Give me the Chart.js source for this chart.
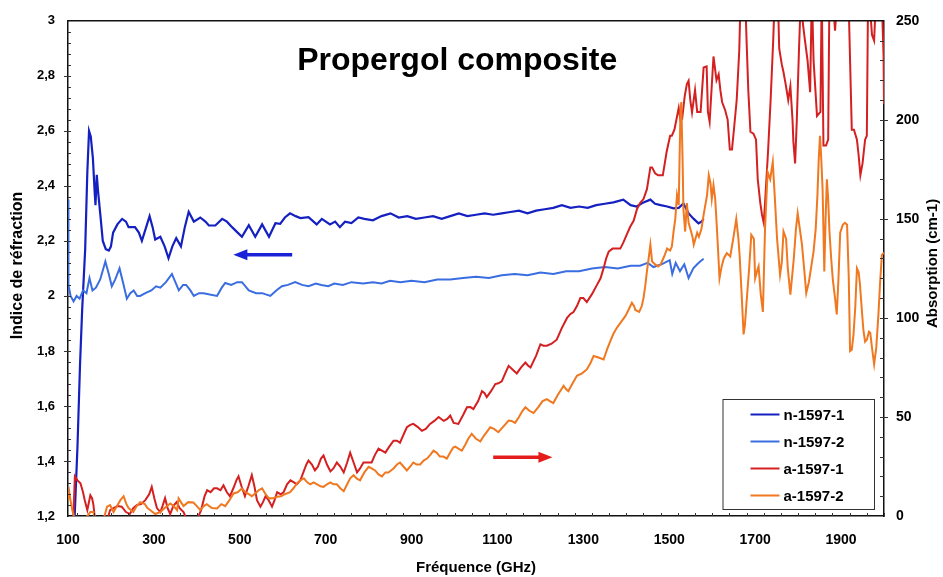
<!DOCTYPE html>
<html>
<head>
<meta charset="utf-8">
<title>Propergol composite</title>
<script src="https://cdn.jsdelivr.net/npm/chart.js@4.4.1/dist/chart.umd.min.js"></script>
<style>
  html, body { margin: 0; padding: 0; background: #fff; }
  #wrap { width: 943px; height: 577px; }
</style>
</head>
<body>
<div id="wrap"><canvas id="chart" width="943" height="577"></canvas></div>
<script>
// Axes (GHz, indice, cm-1)
const xTicks = [100, 300, 500, 700, 900, 1100, 1300, 1500, 1700, 1900];
const leftTicks = [1.2, 1.4, 1.6, 1.8, 2, 2.2, 2.4, 2.6, 2.8, 3];
const rightTicks = [0, 50, 100, 150, 200, 250];

// n-1597-1 : indice de réfraction, échantillon 1
const n1Freq = [115, 122, 128, 133, 140, 145, 149, 153, 158, 162, 164, 167, 170, 175, 181, 188, 195, 200, 205, 215,
  226, 235, 241, 256, 265, 272, 282, 290, 297, 303, 315, 325, 334, 343, 352, 363, 372, 381, 393, 408,
  420, 428, 443, 459, 470, 482, 495, 505, 521, 536, 552, 568, 583, 594, 605, 617, 630, 641, 660, 679,
  691, 710, 722, 733, 745, 760, 776, 790, 810, 830, 851, 870, 890, 910, 930, 950, 970, 990, 1010, 1030,
  1050, 1070, 1090, 1110, 1130, 1150, 1170, 1190, 1210, 1230, 1250, 1270, 1290, 1310, 1330, 1350, 1370, 1393, 1410, 1424,
  1440, 1456, 1467, 1480, 1495, 1510, 1522, 1533, 1545, 1557, 1568, 1575, 1580];
const n1Vals = [1.18, 1.45, 1.75, 1.95, 2.17, 2.45, 2.60, 2.58, 2.50, 2.38, 2.33, 2.44, 2.38, 2.30, 2.20, 2.17, 2.165, 2.18, 2.23, 2.26,
  2.28, 2.27, 2.25, 2.25, 2.23, 2.20, 2.25, 2.29, 2.25, 2.205, 2.215, 2.18, 2.137, 2.18, 2.21, 2.18, 2.25, 2.306, 2.27, 2.285,
  2.27, 2.256, 2.256, 2.28, 2.27, 2.25, 2.23, 2.215, 2.257, 2.215, 2.26, 2.215, 2.264, 2.262, 2.285, 2.30, 2.29, 2.283, 2.286, 2.26,
  2.28, 2.26, 2.27, 2.25, 2.27, 2.265, 2.285, 2.28, 2.275, 2.29, 2.30, 2.285, 2.29, 2.28, 2.285, 2.29, 2.28, 2.29, 2.30, 2.29,
  2.295, 2.30, 2.295, 2.30, 2.305, 2.31, 2.30, 2.31, 2.315, 2.32, 2.33, 2.32, 2.325, 2.32, 2.33, 2.335, 2.34, 2.35, 2.33, 2.325,
  2.34, 2.35, 2.335, 2.33, 2.325, 2.318, 2.32, 2.336, 2.30, 2.28, 2.264, 2.27, 2.28];

// n-1597-2 : indice de réfraction, échantillon 2
const n2Freq = [100, 101, 106, 113, 120, 127, 135, 143, 150, 157, 165, 175, 187, 195, 202, 210, 220, 228, 237, 245,
  253, 261, 268, 280, 294, 305, 315, 328, 342, 350, 358, 368, 375, 385, 393, 405, 416, 430, 447, 458,
  466, 480, 494, 505, 521, 538, 552, 571, 585, 598, 612, 629, 645, 660, 677, 690, 706, 720, 740, 760,
  787, 810, 830, 850, 874, 900, 930, 960, 990, 1020, 1050, 1080, 1110, 1140, 1170, 1200, 1230, 1260, 1290, 1320,
  1350, 1380, 1410, 1432, 1450, 1463, 1482, 1501, 1507, 1515, 1525, 1535, 1545, 1556, 1565, 1572, 1580];
const n2Vals = [2.35, 2.04, 2.0, 1.98, 2.0, 1.99, 2.02, 2.01, 2.065, 2.02, 2.03, 2.06, 2.125, 2.08, 2.035, 2.06, 2.10, 2.05, 1.99, 2.01,
  2.02, 2.0, 2.0, 2.01, 2.02, 2.035, 2.03, 2.05, 2.08, 2.05, 2.02, 2.04, 2.04, 2.02, 2.0, 2.01, 2.01, 2.005, 2.0, 2.03,
  2.047, 2.04, 2.05, 2.05, 2.02, 2.01, 2.01, 2.0, 2.02, 2.035, 2.04, 2.05, 2.04, 2.035, 2.045, 2.04, 2.035, 2.045, 2.04, 2.05,
  2.045, 2.05, 2.045, 2.055, 2.05, 2.055, 2.05, 2.06, 2.06, 2.065, 2.07, 2.065, 2.075, 2.08, 2.075, 2.085, 2.08, 2.09, 2.09, 2.10,
  2.105, 2.10, 2.11, 2.11, 2.12, 2.105, 2.115, 2.13, 2.08, 2.12, 2.09, 2.115, 2.065, 2.10, 2.115, 2.125, 2.135];

// a-1597-1 : absorption (cm-1), échantillon 1
const a1Freq = [100, 112, 116, 122, 129, 135, 139, 145, 152, 156, 159, 163, 175, 190, 198, 206, 215, 225, 235, 244,
  252, 260, 270, 280, 289, 295, 301, 307, 315, 320, 326, 332, 338, 345, 353, 360, 369, 375, 380, 386,
  392, 400, 410, 418, 424, 432, 440, 447, 455, 462, 470, 477, 485, 492, 497, 504, 512, 520, 528, 534,
  540, 548, 554, 560, 567, 575, 581, 587, 595, 602, 610, 618, 626, 633, 641, 648, 655, 660, 668, 675,
  682, 689, 695, 703, 711, 718, 726, 734, 742, 750, 757, 765, 773, 780, 788, 797, 807, 815, 823, 831,
  839, 848, 858, 866, 873, 881, 889, 897, 904, 914, 924, 933, 943, 953, 963, 969, 975, 983, 990, 998,
  1009, 1020, 1029, 1037, 1044, 1055, 1064, 1070, 1075, 1085, 1095, 1102, 1110, 1118, 1126, 1135, 1145, 1155, 1165, 1171,
  1177, 1190, 1200, 1207, 1215, 1226, 1238, 1250, 1262, 1270, 1277, 1285, 1293, 1300, 1308, 1320, 1332, 1340, 1347, 1353,
  1359, 1368, 1378, 1386, 1393, 1401, 1409, 1417, 1425, 1432, 1440, 1448, 1456, 1460, 1467, 1474, 1485, 1494, 1502, 1506,
  1512, 1522, 1526, 1530, 1536, 1541, 1545, 1549, 1553, 1560, 1565, 1573, 1580, 1587, 1590, 1594, 1603, 1610, 1615, 1619,
  1623, 1630, 1636, 1641, 1646, 1651, 1657, 1663, 1667, 1675, 1680, 1684, 1689, 1696, 1702, 1706, 1712, 1716, 1720, 1723,
  1730, 1736, 1742, 1746, 1752, 1756, 1762, 1766, 1771, 1777, 1782, 1787, 1789, 1793, 1797, 1802, 1806, 1812, 1816, 1822,
  1828, 1832, 1836, 1844, 1852, 1855, 1859, 1865, 1870, 1873, 1880, 1886, 1892, 1900, 1910, 1917, 1921, 1925, 1930, 1937,
  1941, 1945, 1950, 1956, 1960, 1963, 1968, 1972, 1977, 1982, 1990, 1995, 1999, 2000];
const a1Vals = [-5, -3, 20, 18, 16.5, 12, 8, 3, 10.5, 9, 6, -2, -8, -3, 3, 4, 5, 4.7, 2, 1,
  4, 5.5, 6, 8, 11, 14.7, 9, 4, 2, 5, 9, 4, 1, 5, 7, 4, 2, -1, -4, -3,
  -1, -2, 3, 10, 13, 12, 14, 14, 13, 15.5, 12, 10, 14, 18, 20, 15, 10, 15, 20.6, 15,
  8, 4.7, 7, 10, 8, 4.7, 8, 12, 11, 12, 16, 18, 17, 16, 18, 22, 26, 28, 26, 23,
  25, 29, 30.6, 26, 22.5, 24, 27, 25, 22, 27, 32, 27, 22, 24, 27, 27, 27, 31, 34, 33,
  32, 35, 38, 38, 37, 41, 44.8, 46, 46.5, 45, 43, 44, 46.5, 48, 50, 49, 48, 49, 50.7, 47,
  46.5, 51, 54.9, 55, 54, 58, 63, 62, 60, 63, 66.6, 67, 68, 72, 75.8, 74, 72, 75, 77.5, 76,
  75, 81, 86.7, 86, 86, 87, 89, 95, 100, 102, 103, 106, 110, 110, 108, 112, 116.8, 120, 125, 130,
  133.5, 135, 135, 135, 138, 142, 146, 149, 155, 158, 160, 165, 176, 176, 173, 172, 172, 184, 192, 192,
  195, 206, 200, 200.5, 212, 218, 219.7, 210, 203.8, 215, 204, 204, 226.4, 227, 204, 199, 232, 220, 223, 215,
  209, 205, 200, 185, 185, 196, 210, 235, 270, 275, 240, 215, 194, 193, 190, 170, 158, 152, 148, 158,
  184, 210, 240, 265, 270, 236, 228, 224, 218, 210, 217, 200, 189, 178, 200, 235, 260, 247, 240, 230,
  214, 265, 230, 202, 204, 265, 187, 187, 190, 265, 265, 245, 265, 270, 270, 265, 230, 195, 195, 190,
  182, 172, 178, 190, 192, 265, 255, 243, 240, 265, 265, 260, 232, 208];

// a-1597-2 : absorption (cm-1), échantillon 2
const a2Freq = [100, 103, 105, 110, 113, 118, 125, 135, 145, 152, 159, 165, 175, 185, 191, 198, 206, 214, 222, 229.5,
  236, 241, 252, 260, 268, 279, 285, 291, 303, 315, 325, 338, 346, 354, 357.5, 363, 369, 380, 392, 400,
  408, 416, 423, 435, 447, 457, 466, 476, 485.5, 495, 505, 513, 521, 528, 536, 544, 552, 560, 568, 578,
  587, 596, 605, 617, 625, 633, 641, 649, 657, 664, 672, 680, 688, 695, 703, 711, 718, 726, 734, 742,
  750, 757, 765, 772, 780, 790, 800, 807, 815, 823, 831, 839, 846, 852, 858, 866, 873, 881, 889, 897,
  904, 912, 920, 928, 936, 944, 951, 958, 966, 974, 982, 990, 997, 1002, 1009, 1017, 1025, 1032, 1040, 1050,
  1060, 1070, 1077, 1083, 1092, 1102, 1113, 1126, 1133, 1141, 1150, 1158, 1165, 1175, 1184, 1195, 1205, 1215, 1222, 1230,
  1240, 1254, 1260, 1265, 1275, 1285, 1297, 1308, 1316, 1324, 1335, 1347, 1355, 1363, 1370, 1378, 1388, 1398, 1405, 1413,
  1418, 1421, 1430, 1436, 1440, 1444, 1448, 1452, 1456, 1460, 1467, 1474, 1480, 1488, 1495, 1502, 1506, 1510, 1514, 1518,
  1522, 1526, 1528, 1531, 1533, 1537, 1541, 1545, 1549, 1554, 1557, 1565, 1569, 1575, 1580, 1588, 1592, 1596, 1599, 1603,
  1607, 1611, 1615, 1617, 1622, 1627, 1634, 1642, 1649, 1656, 1661, 1664, 1669, 1673, 1676, 1680, 1686, 1691, 1697, 1700,
  1705, 1708, 1713, 1718, 1723, 1729, 1735, 1741, 1746, 1751, 1758, 1762, 1766, 1772, 1776, 1782, 1790, 1795, 1799, 1804,
  1809, 1814, 1819, 1825, 1830, 1836, 1841, 1845, 1848, 1851, 1854, 1857, 1861, 1864, 1867, 1870, 1873, 1877, 1881, 1886,
  1890, 1894, 1898, 1904, 1909, 1914, 1918, 1921, 1925, 1929, 1933, 1937, 1941, 1944, 1948, 1952, 1956, 1960, 1965, 1968,
  1972, 1977, 1982, 1987, 1991, 1995, 2000];
const a2Vals = [8, 12, 8.9, 3, 0.5, -3, -4, -2, 0, 2, 2, -2, -5, 0, 4.7, 5.5, 2, 5, 8, 10,
  6, 4, 2, 5, 7, 6, 4, 3, 1, 2, 4, 6.3, 5, 3, 8.9, 7, 5, 7, 6.8, 5,
  3, 5, 6, 4, 3.8, 6, 5, 8, 11.4, 12, 13.9, 12, 11, 10, 11.4, 13, 14, 11, 8.9, 9,
  9.7, 10, 11, 12, 14, 16.4, 18, 19, 17, 16, 17, 16, 15, 14.7, 16, 17, 16, 16, 14, 12.5,
  16, 19, 20.6, 19, 18, 22, 24.8, 24, 23, 21, 20, 22, 22, 23, 24, 26, 27, 25, 23, 25,
  27, 26, 26, 28, 29, 31, 33, 32, 30, 30, 29, 32, 34.6, 35, 34, 33, 36, 39, 41.5, 39,
  37.7, 41, 43, 44.8, 44, 42.3, 45, 48.2, 48, 47, 50, 53, 54.9, 53, 52, 55, 58, 59, 58, 57,
  61, 65.8, 64, 63, 67, 70.8, 72, 74, 77, 80.8, 80, 79, 84, 88.4, 92, 95, 98, 101, 104, 107.6,
  106, 104, 103, 106, 110, 116, 123.5, 130, 137, 128.5, 127, 126, 127, 131, 135, 134, 136, 143.6, 150, 162,
  157, 204, 209, 180, 155, 143.6, 158, 148, 145, 141, 137, 143, 141, 145, 152, 162, 172, 168, 160, 167,
  160, 145, 128.5, 120, 126, 130, 132.7, 131, 140, 150, 140, 131, 110, 91.7, 96, 108, 125, 142, 140, 120,
  124, 126, 112, 103, 145, 173.7, 170, 178.7, 160, 140, 121.8, 128, 143.6, 140, 125, 111.8, 130, 145, 152.8, 145,
  137, 125, 112.6, 118, 125, 133.5, 145, 162, 180, 192, 180, 165, 123.5, 150, 170, 160, 143.6, 130, 119, 110,
  101.8, 120, 143, 147, 148, 147, 120, 83.3, 84, 91.7, 105, 125, 123, 117, 105, 94, 88, 89, 93, 92.5,
  85, 76.6, 85, 101.8, 118, 131.8, 133];

// Flèches : [f début, f fin, valeur, axe, couleur]
const arrowsDef = [
  [622, 485, 2.15, 'y', '#1a22d8'],
  [1090, 1228, 29.6, 'y1', '#e51c1c']
];

const seriesColors = ['#1520c0', '#3a6ee0', '#d42020', '#f07820'];
const seriesLabels = ['n-1597-1', 'n-1597-2', 'a-1597-1', 'a-1597-2'];

function toPoints(fs, vs) {
  return fs.map((f, i) => ({ x: f, y: vs[i] }));
}

function fmtIndex(v) {
  return String(Math.round(v * 10) / 10).replace('.', ',');
}

const tickFont = { family: '"Liberation Sans", Arial, sans-serif', size: 14, weight: 'bold' };

// Décor : titres, flèches, graduations, légende
const decorations = {
  id: 'decorations',
  afterDraw(chart) {
    const { ctx, chartArea: a, scales } = chart;
    const sx = scales.x, sl = scales.y, sr = scales.y1;
    ctx.save();

    // cadre supérieur
    ctx.strokeStyle = '#111';
    ctx.lineWidth = 1.5;
    ctx.beginPath();
    ctx.moveTo(a.left, a.top);
    ctx.lineTo(a.right, a.top);
    ctx.stroke();

    // graduations
    ctx.lineWidth = 1;
    ctx.strokeStyle = '#333';
    ctx.beginPath();
    for (let i = 0; i <= 47; i++) {
      const v = 120 + i * 40;
      const px = Math.round(sx.getPixelForValue(v)) + 0.5;
      const major = (v - 100) % 200 === 0;
      ctx.moveTo(px, a.bottom + (major ? 3 : 0));
      ctx.lineTo(px, a.bottom - (major ? 4 : 3));
    }
    for (let i = 1; i < 45; i++) {
      const v = 1.2 + i * 0.04;
      const py = Math.round(sl.getPixelForValue(v)) + 0.5;
      const major = i % 5 === 0;
      ctx.moveTo(a.left - (major ? 4 : 0), py);
      ctx.lineTo(a.left + 3, py);
    }
    for (let i = 1; i < 25; i++) {
      const py = Math.round(sr.getPixelForValue(i * 10)) + 0.5;
      const major = i % 5 === 0;
      ctx.moveTo(a.right + (major ? 4 : 0), py);
      ctx.lineTo(a.right - 4, py);
    }
    ctx.stroke();

    // titre du graphique
    ctx.fillStyle = '#000';
    ctx.textAlign = 'center';
    ctx.textBaseline = 'middle';
    ctx.font = 'bold 32px "Liberation Sans", Arial, sans-serif';
    ctx.fillText('Propergol composite', a.left + a.width * 0.477, a.top + 40);

    // titres des axes
    ctx.font = 'bold 15px "Liberation Sans", Arial, sans-serif';
    ctx.fillText('Fréquence (GHz)', (a.left + a.right) / 2, a.bottom + 52);
    ctx.save();
    ctx.translate(933, (a.top + a.bottom) / 2 - 5);
    ctx.rotate(-Math.PI / 2);
    ctx.fillText('Absorption (cm-1)', 0, 0);
    ctx.restore();
    ctx.save();
    ctx.font = 'bold 16px "Liberation Sans", Arial, sans-serif';
    ctx.translate(18, (a.top + a.bottom) / 2 - 3);
    ctx.rotate(-Math.PI / 2);
    ctx.fillText('Indice de réfraction', 0, 0);
    ctx.restore();

    // flèches
    arrowsDef.forEach(([f0, f1, v, axis, color]) => {
      const x0 = sx.getPixelForValue(f0), x1 = sx.getPixelForValue(f1);
      const y = scales[axis].getPixelForValue(v);
      const dir = Math.sign(x1 - x0);
      ctx.strokeStyle = color;
      ctx.fillStyle = color;
      ctx.lineWidth = 3.5;
      ctx.beginPath();
      ctx.moveTo(x0, y);
      ctx.lineTo(x1 - dir * 12, y);
      ctx.stroke();
      ctx.beginPath();
      ctx.moveTo(x1, y);
      ctx.lineTo(x1 - dir * 14, y - 5.5);
      ctx.lineTo(x1 - dir * 14, y + 5.5);
      ctx.closePath();
      ctx.fill();
    });

    // légende
    const lx = a.right - 161.5, ly = a.bottom - 117, lw = 151.5, lh = 110;
    ctx.fillStyle = '#fff';
    ctx.fillRect(lx, ly, lw, lh);
    ctx.strokeStyle = '#333';
    ctx.lineWidth = 1;
    ctx.strokeRect(lx + 0.5, ly + 0.5, lw, lh);
    ctx.font = 'bold 15px "Liberation Sans", Arial, sans-serif';
    ctx.textAlign = 'left';
    seriesLabels.forEach((lab, i) => {
      const yy = ly + 15.5 + i * 27;
      ctx.strokeStyle = seriesColors[i];
      ctx.lineWidth = 2;
      ctx.beginPath();
      ctx.moveTo(lx + 28, yy);
      ctx.lineTo(lx + 57, yy);
      ctx.stroke();
      ctx.fillStyle = '#000';
      ctx.fillText(lab, lx + 61, yy + 1);
    });

    ctx.restore();
  }
};

new Chart(document.getElementById('chart'), {
  type: 'line',
  data: {
    datasets: [
      { label: seriesLabels[0], data: toPoints(n1Freq, n1Vals), yAxisID: 'y', borderColor: seriesColors[0], borderWidth: 2.2, order: 4 },
      { label: seriesLabels[1], data: toPoints(n2Freq, n2Vals), yAxisID: 'y', borderColor: seriesColors[1], borderWidth: 2, order: 3 },
      { label: seriesLabels[2], data: toPoints(a1Freq, a1Vals), yAxisID: 'y1', borderColor: seriesColors[2], borderWidth: 2, order: 2 },
      { label: seriesLabels[3], data: toPoints(a2Freq, a2Vals), yAxisID: 'y1', borderColor: seriesColors[3], borderWidth: 2, order: 1 }
    ]
  },
  options: {
    responsive: false,
    animation: false,
    events: [],
    layout: { padding: { top: 18, left: 0, right: 0, bottom: 0 } },
    elements: { point: { radius: 0 }, line: { tension: 0, fill: false } },
    plugins: { legend: { display: false }, tooltip: { enabled: false }, title: { display: false } },
    scales: {
      x: {
        type: 'linear', min: 100, max: 2000,
        afterBuildTicks: s => { s.ticks = xTicks.map(v => ({ value: v })); },
        afterFit: s => { s.height = 61; },
        grid: { display: false, drawTicks: false },
        border: { display: true, color: '#111', width: 1.5 },
        ticks: { color: '#000', font: tickFont, padding: 16, maxRotation: 0, autoSkip: false, callback: v => String(v) }
      },
      y: {
        position: 'left', min: 1.2, max: 3,
        afterBuildTicks: s => { s.ticks = leftTicks.map(v => ({ value: v })); },
        afterFit: s => { s.width = 68; },
        grid: { display: false, drawTicks: false },
        border: { display: true, color: '#111', width: 1.5 },
        ticks: { color: '#000', font: { ...tickFont, size: 13 }, padding: 13, callback: v => fmtIndex(v) }
      },
      y1: {
        position: 'right', min: 0, max: 250,
        afterBuildTicks: s => { s.ticks = rightTicks.map(v => ({ value: v })); },
        afterFit: s => { s.width = 59; },
        grid: { display: false, drawTicks: false },
        border: { display: true, color: '#111', width: 1.5 },
        ticks: { color: '#000', font: tickFont, padding: 12 }
      }
    }
  },
  plugins: [decorations]
});
</script>
</body>
</html>
